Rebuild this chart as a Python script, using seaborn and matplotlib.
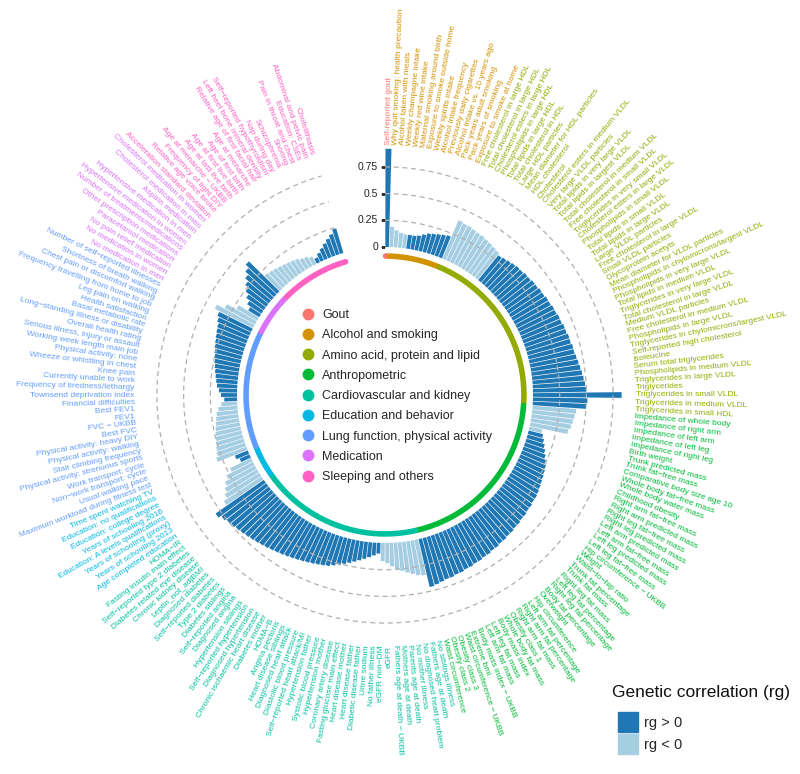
import numpy as np
import matplotlib
matplotlib.use("Agg")
import matplotlib.pyplot as plt
from matplotlib.lines import Line2D
from matplotlib.patches import Patch
import seaborn as sns

# ---- data (clockwise from 12 o'clock) ----
groups = ["Gout", "Alcohol and smoking", "Amino acid, protein and lipid",
          "Anthropometric", "Cardiovascular and kidney", "Education and behavior",
          "Lung function, physical activity", "Medication", "Sleeping and others"]

gout_traits = ["Self-reported gout"]
gout_rg = [0.92]

alcohol_traits = ["Why quit smoking: health precaution", "Alcohol taken with meals",
                  "Weekly champagne intake", "Weekly red wine intake",
                  "Maternal smoking around birth", "Exposure to smoke outside home",
                  "Weekly spirits intake", "Alcohol intake frequency",
                  "Previously daily cigarettes", "Alcohol intake vs. 10 years ago",
                  "Pack years adult smoking", "Pack years of smoking",
                  "Exposure to smoke at home"]
alcohol_rg = [-0.19, -0.16, -0.14, -0.13, 0.13, 0.13, 0.14, 0.16, 0.18, 0.19, 0.20, 0.21, 0.22]

lipid_traits = ["Free cholesterol in large HDL", "Total cholesterol in large HDL",
                "Cholesterol esters in large HDL", "Phospholipids in large HDL",
                "Total lipids in large HDL", "Total cholesterol in HDL", "Large HDL particles",
                "Mean diameter for HDL particles", "HDL cholesterol", "Cholesterol",
                "Cholesterol esters in medium VLDL", "Very large VLDL particles",
                "Total lipids in very large VLDL", "Total lipids in largest VLDL",
                "Total cholesterol in medium VLDL", "Free cholesterol in small VLDL",
                "Triglycerides in very small VLDL", "Cholesterol esters in large VLDL",
                "Phospholipids in small VLDL", "Total lipids in small VLDL",
                "Total lipids in large VLDL", "Large VLDL particles",
                "Free cholesterol in large VLDL", "Small VLDL particles",
                "Glycoprotein acetyls", "Mean diameter for VLDL particles",
                "Phospholipids in chylomicrons/largest VLDL", "Phospholipids in very large VLDL",
                "Total lipids in medium VLDL", "Triglycerides in very large VLDL",
                "Total cholesterol in large VLDL", "Medium VLDL particles",
                "Free cholesterol in medium VLDL", "Phospholipids in large VLDL",
                "Triglycerides in chylomicrons/largest VLDL", "Self-reported high cholesterol",
                "Isoleucine", "Serum total triglycerides", "Phospholipids in medium VLDL",
                "Triglycerides in large VLDL", "Triglycerides", "Triglycerides in small VLDL",
                "Triglycerides in medium VLDL", "Triglycerides in small HDL"]
lipid_rg = [-0.39, -0.38, -0.38, -0.37, -0.36, -0.36, -0.35, -0.34, -0.33, -0.32,
            0.30, 0.31, 0.32, 0.33, 0.34, 0.34, 0.35, 0.35, 0.36, 0.36,
            0.37, 0.37, 0.38, 0.38, 0.39, 0.39, 0.40, 0.40, 0.41, 0.41,
            0.42, 0.42, 0.43, 0.43, 0.44, 0.45, 0.46, 0.47, 0.48, 0.49,
            0.50, 0.83, 0.51, 0.50]

anthro_traits = ["Impedance of whole body", "Impedance of right arm", "Impedance of left arm",
                 "Impedance of left leg", "Impedance of right leg", "Birth weight",
                 "Trunk predicted mass", "Trunk fat\u2212free mass", "Comparative body size age 10",
                 "Whole body fat\u2212free mass", "Whole body water mass", "Childhood obesity",
                 "Right arm fat\u2212free mass", "Right arm predicted mass",
                 "Right leg fat\u2212free mass", "Right leg predicted mass",
                 "Left arm predicted mass", "Left arm fat\u2212free mass",
                 "Left leg predicted mass", "Left leg fat\u2212free mass",
                 "Hip circumference \u2212 UKBB", "Weight", "Waist\u2212to\u2212hip ratio",
                 "Trunk fat percentage", "Trunk fat mass", "Right leg fat mass",
                 "Left leg fat percentage", "Right leg fat percentage", "Body fat percentage",
                 "Overweight", "Hip circumference", "Left arm fat percentage",
                 "Right arm fat percentage", "Right arm fat mass", "Obesity class 1",
                 "Whole body fat mass", "Body mass index", "Left leg fat mass",
                 "Left arm fat mass", "Body mass index \u2212 UKBB", "Extreme bmi",
                 "Waist circumference \u2212 UKBB", "Obesity class 3", "Obesity class 2",
                 "Waist circumference"]
anthro_rg = [-0.41, -0.40, -0.39, -0.38, -0.36, -0.12,
             0.14, 0.16, 0.18, 0.20, 0.22, 0.24, 0.26, 0.27, 0.28, 0.29,
             0.30, 0.31, 0.32, 0.32, 0.33, 0.33, 0.34, 0.34, 0.35, 0.35,
             0.36, 0.36, 0.37, 0.37, 0.38, 0.38, 0.39, 0.39, 0.40, 0.40,
             0.41, 0.41, 0.42, 0.42, 0.43, 0.43, 0.44, 0.45, 0.46]

cardio_traits = ["No siblings illness", "Fathers age at death", "No diagnosed heart problem",
                 "No mother illness", "Parents age at death", "Mothers age at death",
                 "Fathers age at death \u2212 UKBB", "eGFR", "eGFR non\u2212DM", "No father illness",
                 "Urine sodium", "Diabetic disease father", "Heart disease father",
                 "Heart disease mother", "Fasting glucose main effect", "Coronary artery disease",
                 "Hypertension mother", "Systolic blood pressure", "Hypertension father",
                 "Self\u2212reported heart attack/MI", "Diastolic blood pressure",
                 "Diagnosed heart attack", "Heart disease siblings", "Angina pectoris",
                 "HOMA\u2212B", "Diabetes mother", "Chronic ischaemic heart disease",
                 "Diagnosed hypertension", "Self\u2212reported hypertension", "Hypertension siblings",
                 "Diagnosed angina", "Self\u2212reported angina", "Diabetes siblings",
                 "Type 2 diabetes", "Self\u2212reported diabetes", "Diagnosed diabetes",
                 "Leptin_not_adjBMI", "Chronic kidney disease", "Diabetes related eye disease",
                 "Self\u2212reported type 2 diabetes", "Fasting insulin main effect", "HOMA\u2212IR"]
cardio_rg = [-0.34, -0.33, -0.31, -0.29, -0.27, -0.25, -0.22, -0.19, -0.17,
             0.10, 0.12, 0.14, 0.16, 0.18, 0.20, 0.22, 0.24, 0.26, 0.28,
             0.30, 0.31, 0.32, 0.33, 0.34, 0.35, 0.36, 0.37, 0.38, 0.39,
             0.40, 0.41, 0.42, 0.43, 0.44, 0.45, 0.46, 0.47, 0.48, 0.49,
             0.50, 0.52, 0.55]

edu_traits = ["Age completed education", "Years of schooling 2013", "Years of schooling (proxy)",
              "Education: A levels qualifications", "Years of schooling 2016",
              "Education: college degree", "Education: no qualifications", "Time spent watching TV"]
edu_rg = [-0.42, -0.38, -0.35, -0.32, -0.28, -0.22, 0.10, 0.13]

lung_traits = ["Maximum workload during fitness test", "Usual walking pace",
               "Non\u2212work transport: cycle", "Work transport: cycle",
               "Physical activity: strenuous sports", "Stair climbing frequency",
               "Physical activity: walking", "Physical activity: heavy DIY", "Best FVC",
               "FVC \u2212 UKBB", "FEV1", "Best FEV1", "Financial difficulties",
               "Townsend deprivation index", "Frequency of tiredness/lethargy",
               "Currently unable to work", "Knee pain", "Wheeze or whistling in chest",
               "Physical activity: none", "Working week length main job",
               "Serious illness, injury or assault", "Overall health rating",
               "Long\u2212standing illness or disability", "Basal metabolic rate",
               "Health satisfaction", "Leg pain on walking",
               "Frequency travelling from home to job", "Chest pain or discomfort walking",
               "Shortness of breath walking", "Number of self\u2212reported illnesses"]
lung_rg = [-0.30, -0.28, -0.27, -0.26, -0.25, -0.24, -0.23, -0.22, -0.21, -0.20, -0.18, -0.15,
           0.12, 0.15, 0.17, 0.19, 0.20, 0.21, 0.22, 0.23, 0.24, 0.25, 0.26, 0.27,
           0.28, 0.29, 0.30, 0.31, 0.33, 0.35]

med_traits = ["No medication in men", "No medication in women", "No pain relief medication",
              "Paracetamol medication", "Other prescription medications",
              "Number of treatments/medications", "Hypertensive medication in women",
              "Hypertensive medication in men", "Aspirin medication",
              "Cholesterol medication in men", "Cholesterol medication in women"]
med_rg = [-0.40, -0.32, -0.22, 0.12, 0.16, 0.20, 0.24, 0.28, 0.32, 0.36, 0.40]

sleep_traits = ["Acceleration standard deviation", "Relative age voice broke",
                "Frequency of light DIY", "Age at menarche \u2212 UKBB", "Age at last live birth",
                "Age at first live birth", "Age of first birth", "Age at menarche",
                "Relative age of first facial hair", "Left heel bone mineral density",
                "Self\u2212reported hypothyroidism", "Nap during day", "Schizophrenia", "Snoring",
                "Pain in throat and chest", "Education: CSEs", "Abdominal and pelvic pain",
                "Cholelithiasis"]
sleep_rg = [-0.20, -0.19, -0.18, -0.17, -0.16, -0.15, -0.14, -0.13, -0.11, -0.10, -0.08,
            0.05, 0.08, 0.11, 0.14, 0.17, 0.20, 0.24]

group_colors = ["#F8766D", "#D39200", "#93AA00", "#00BA38", "#00C19F",
                "#00B9E3", "#619CFF", "#DB72FB", "#FF61C3"]

# ---- assemble ----
trait_lists = [gout_traits, alcohol_traits, lipid_traits, anthro_traits, cardio_traits,
               edu_traits, lung_traits, med_traits, sleep_traits]
rg_lists = [gout_rg, alcohol_rg, lipid_rg, anthro_rg, cardio_rg, edu_rg, lung_rg, med_rg, sleep_rg]

traits, rg, gidx = [], [], []
for g, (t, r) in enumerate(zip(trait_lists, rg_lists)):
    traits += t
    rg += r
    gidx += [g] * len(t)
rg = np.array(rg)
gidx = np.array(gidx)
n = len(traits)

sns.set_theme(style="white")
plt.rcParams["font.family"] = ["Liberation Sans", "DejaVu Sans"]
pos_col, neg_col = sns.color_palette("Paired")[1], sns.color_palette("Paired")[0]

n_slots = n + 10          # empty slots leave the gap at the top
w = 2 * np.pi / n_slots
theta = (np.arange(n) + 0.5) * w

W, H = 800, 774
fig = plt.figure(figsize=(W / 100, H / 100), dpi=100)
cx, cy = 385, 395          # centre in pixels from top-left
unit = 106.8               # pixels per rg unit
r_hole = 148 / unit
r_max = 2.4
R = (r_hole + r_max) * unit
ax = fig.add_axes([(cx - R) / W, (H - cy - R) / H, 2 * R / W, 2 * R / H], projection="polar")
ax.set_theta_zero_location("N")
ax.set_theta_direction(-1)
ax.set_ylim(-r_hole, r_max)
ax.axis("off")

# bars
bar_cols = [pos_col if v > 0 else neg_col for v in rg]
ax.bar(theta, np.abs(rg), width=w * 0.86, bottom=0, color=bar_cols, edgecolor="none", zorder=2)

# dashed reference circles
th = np.linspace(0, n * w, 500)
for v in [0.25, 0.5, 0.75]:
    ax.plot(th, np.full_like(th, v), ls=(0, (4, 3)), color="#b0b0b0", lw=0.9, zorder=3)

# y axis ticks and labels at theta = 0
for v, s in zip([0, 0.25, 0.5, 0.75], ["0", "0.25", "0.5", "0.75"]):
    ax.plot([0], [v], marker=0, ms=3, mew=0.8, color="#333333", zorder=4)
    ax.annotate(s, xy=(0, v), xytext=(-5, 0), textcoords="offset points",
                ha="right", va="center", fontsize=7.5, color="#222222")

# group ring
for g, c in enumerate(group_colors):
    ii = np.where(gidx == g)[0]
    tt = np.linspace(theta[ii[0]] - w * 0.35, theta[ii[-1]] + w * 0.35, 60)
    ax.plot(tt, np.full_like(tt, -0.085), color=c, lw=4, solid_capstyle="round", zorder=2)

# trait labels
for t, lab, g in zip(theta, traits, gidx):
    ang = np.degrees(t)
    if ang < 179:
        rot, ha = 90 - ang, "left"
    else:
        rot, ha = 270 - ang, "right"
    ax.text(t, 0.96, lab, rotation=rot, rotation_mode="anchor", ha=ha, va="center",
            fontsize=6.0, color=group_colors[g])

# centre legend (groups)
handles = [Line2D([], [], marker="o", ls="", color=c, ms=7.5) for c in group_colors]
fig.legend(handles, groups, loc="upper left", bbox_to_anchor=(302 / W, 1 - 309 / H),
           frameon=False, fontsize=9.0, handlelength=1.0, handletextpad=0.6,
           labelspacing=0.66, borderpad=0, borderaxespad=0)

# sign legend
fig.text(612 / W, 1 - 692 / H, "Genetic correlation (rg)", fontsize=12.5,
         ha="left", va="center", color="#111111")
fig.legend([Patch(color=pos_col), Patch(color=neg_col)], ["rg > 0", "rg < 0"],
           loc="upper left", bbox_to_anchor=(618 / W, 1 - 712 / H), frameon=False,
           fontsize=10.5, handlelength=1.35, handleheight=1.75,
           handletextpad=0.45, labelspacing=0.12, borderpad=0, borderaxespad=0)

fig.savefig("out.png", dpi=100)
